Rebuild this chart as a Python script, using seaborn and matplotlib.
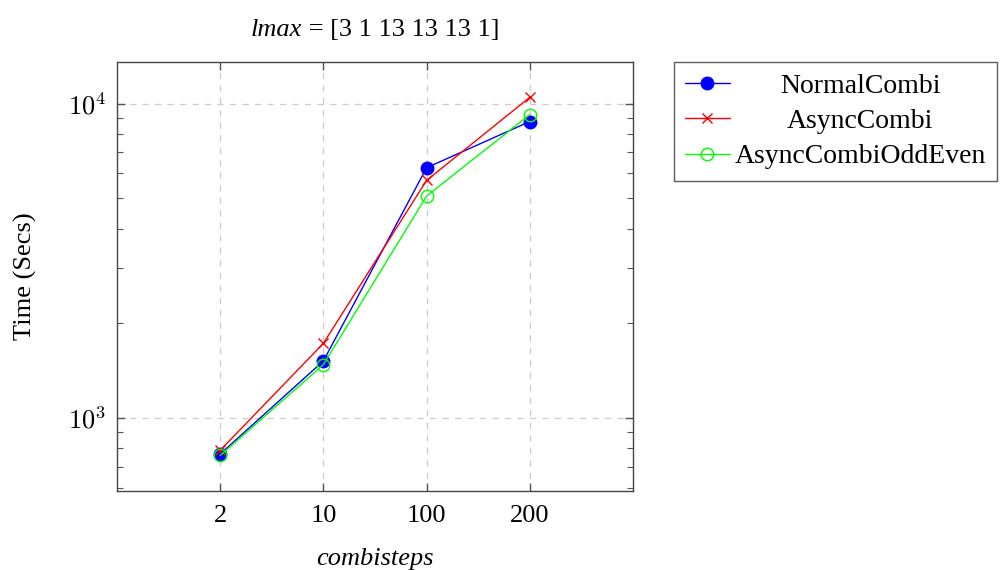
import matplotlib
matplotlib.use("Agg")
import matplotlib.pyplot as plt
import seaborn as sns
import pandas as pd
import numpy as np
from matplotlib.ticker import LogLocator, NullFormatter, FuncFormatter

categories = ["2", "10", "100", "200"]
normal_combi = [767, 1517, 6249, 8768]
async_combi = [788, 1726, 5696, 10474]
async_oddeven = [759, 1477, 5079, 9228]
series_names = ["NormalCombi", "AsyncCombi", "AsyncCombiOddEven"]

rows = []
for name, vals in zip(series_names, [normal_combi, async_combi, async_oddeven]):
    for i, (c, v) in enumerate(zip(categories, vals)):
        rows.append({"pos": i + 1, "combisteps": c, "time": v, "series": name})
df = pd.DataFrame(rows)

sns.set_theme(style="ticks")
plt.rcParams["font.family"] = ["Liberation Serif", "DejaVu Serif"]
plt.rcParams["mathtext.fontset"] = "cm"
plt.rcParams["text.color"] = "black"
plt.rcParams["axes.labelcolor"] = "black"
plt.rcParams["xtick.labelcolor"] = "black"
plt.rcParams["ytick.labelcolor"] = "black"

FS = 19
LFS = 20

fig = plt.figure(figsize=(10.06, 5.70), dpi=100)
ax = fig.add_axes([0.1163, 0.1386, 0.5129, 0.7526])

palette = {"NormalCombi": "#0000ff", "AsyncCombi": "#ff0000", "AsyncCombiOddEven": "#00ff00"}
markers = {"NormalCombi": "o", "AsyncCombi": "x", "AsyncCombiOddEven": "o"}

for name in series_names:
    sub = df[df.series == name]
    c = palette[name]
    kw = dict(marker=markers[name], linewidth=1.0, color=c, label=name,
              markeredgecolor=c, markeredgewidth=1.0)
    if name == "NormalCombi":
        kw.update(markersize=9, markerfacecolor=c)
    elif name == "AsyncCombi":
        kw.update(markersize=7.5)
    else:
        kw.update(markersize=9, markerfacecolor="none")
    sns.lineplot(data=sub, x="pos", y="time", ax=ax, **kw)

ax.set_yscale("log")
ax.set_xlim(0, 5)
ax.set_ylim(585, 13563)
ax.set_xticks([1, 2, 3, 4])
ax.set_xticklabels(categories)
ax.yaxis.set_major_locator(LogLocator(base=10))
ax.yaxis.set_major_formatter(FuncFormatter(lambda v, p: r"$10^{%d}$" % int(round(np.log10(v)))))
ax.yaxis.set_minor_locator(LogLocator(base=10, subs=np.arange(2, 10)))
ax.yaxis.set_minor_formatter(NullFormatter())

ax.grid(True, which="major", linestyle=(0, (5, 5)), color="#cccccc", linewidth=0.9)
ax.tick_params(axis="both", which="both", direction="in", top=True, right=True,
               labelsize=FS, color="#555555", labelcolor="black")
ax.tick_params(axis="both", which="major", length=6, width=1)
ax.tick_params(axis="x", which="major", pad=10)
ax.tick_params(axis="y", which="major", pad=8)
ax.tick_params(axis="y", which="minor", length=4, width=0.8)
for s in ax.spines.values():
    s.set_color("#444444")
    s.set_linewidth(1.0)

ax.set_xlabel("combisteps", fontsize=FS, fontstyle="italic", labelpad=15, color="black")
ax.set_ylabel("Time (Secs)", fontsize=FS, labelpad=22, color="black")

# title: italic "lmax" + regular remainder
t1 = fig.text(0, 0.948, "lmax", fontsize=FS, fontstyle="italic", ha="left", va="center", color="black")
t2 = fig.text(0, 0.948, " = [3 1 13 13 13 1]", fontsize=FS, ha="left", va="center", color="black")
fig.canvas.draw()
r = fig.canvas.get_renderer()
w1 = t1.get_window_extent(r).width
w2 = t2.get_window_extent(r).width
cx = 375.0
x0 = cx - (w1 + w2) / 2
t1.set_x(x0 / 1006)
t2.set_x((x0 + w1) / 1006)

leg = ax.legend(loc="upper left", bbox_to_anchor=(1.0795, 1.0), fontsize=LFS,
                frameon=True, fancybox=False, edgecolor="#333333",
                handlelength=1.6, borderpad=0.4, labelspacing=0.36, handletextpad=0.18,
                borderaxespad=0.0)
leg.get_frame().set_linewidth(1.0)

# center legend labels within their column (pgfplots style)
fig.canvas.draw()
texts = leg.get_texts()
exts = [t.get_window_extent(r) for t in texts]
left = min(e.x0 for e in exts)
right = max(e.x1 for e in exts)
colc = (left + right) / 2
for t, e in zip(texts, exts):
    yc = (e.y0 + e.y1) / 2
    t.set_visible(False)
    fig.text(colc / 1006, yc / 570, t.get_text(), fontsize=LFS, ha="center", va="center", color="black")

fig.savefig("out.png", dpi=100)
